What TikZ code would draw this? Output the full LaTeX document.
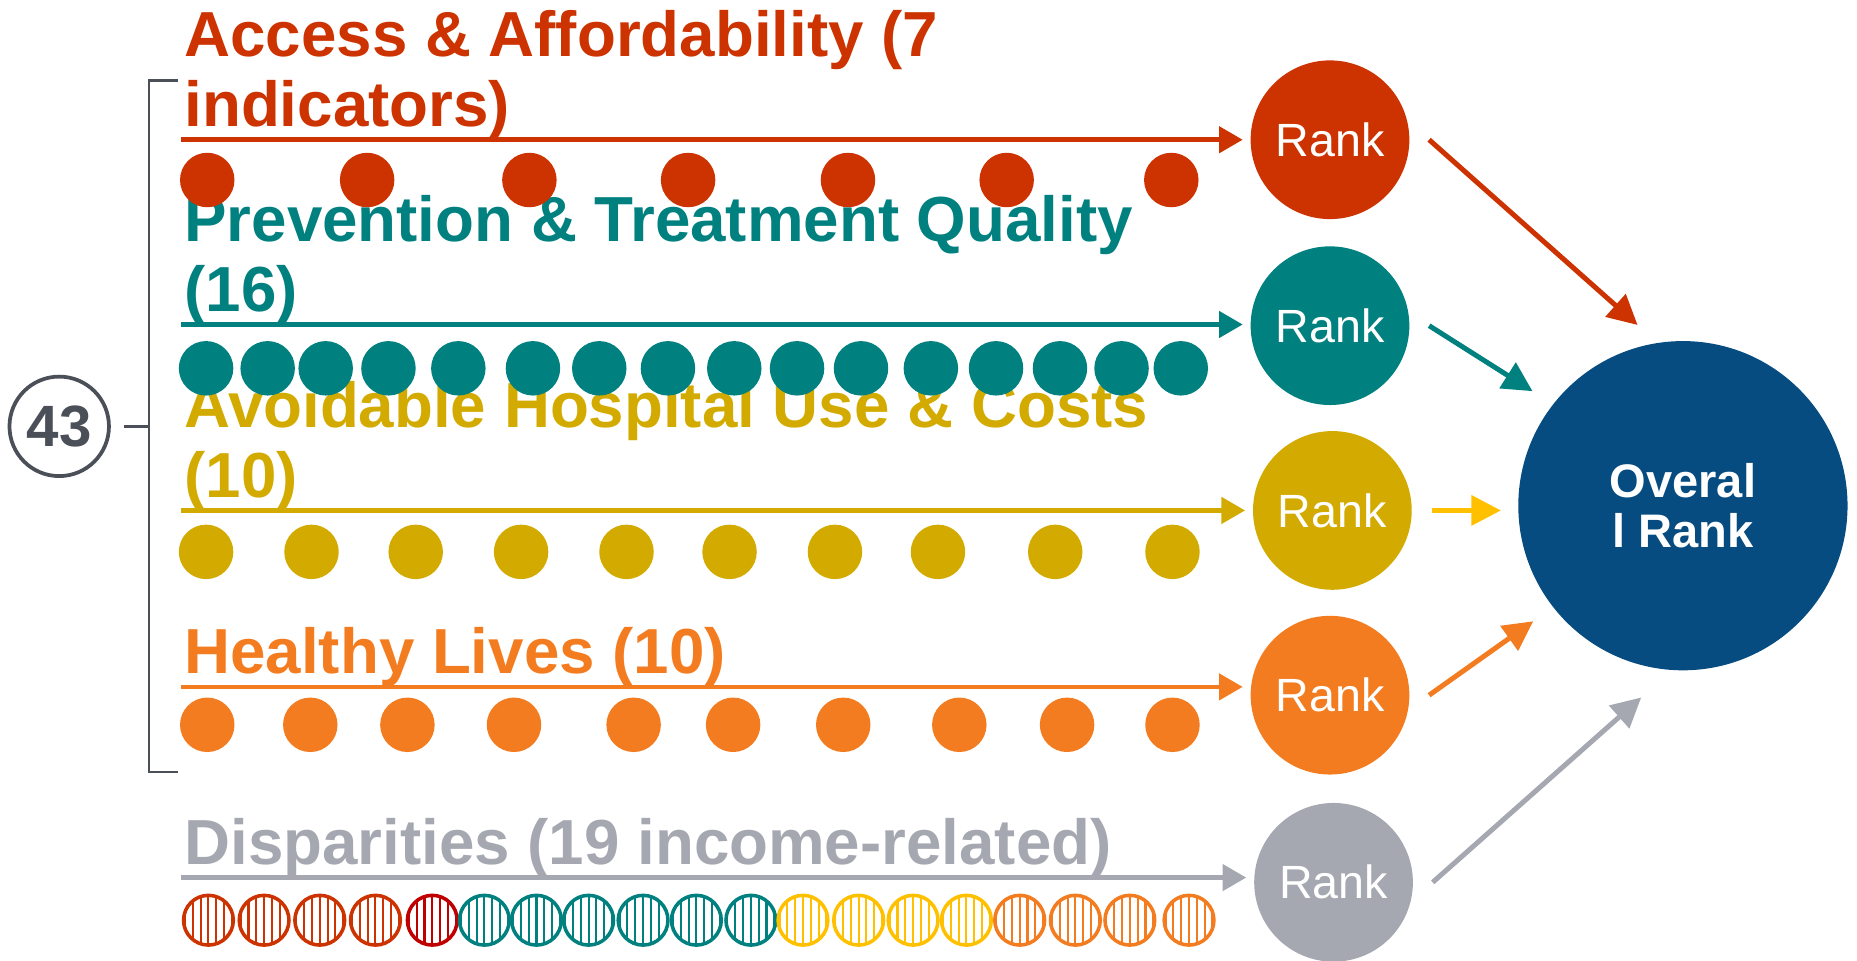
\documentclass[tikz,border=0pt]{standalone}
\usepackage{fontspec}
\setmainfont{Liberation Sans}
\usepackage{xcolor}
\usetikzlibrary{arrows.meta}
\definecolor{accred}{HTML}{CC3300}
\definecolor{darkred}{HTML}{C00000}
\definecolor{prevteal}{HTML}{00807F}
\definecolor{avoidgold}{HTML}{D3AB00}
\definecolor{brightgold}{HTML}{FFC000}
\definecolor{healthorange}{HTML}{F47C20}
\definecolor{dispgray}{HTML}{A5A8B0}
\definecolor{overallblue}{HTML}{064C80}
\definecolor{bracketgray}{HTML}{4B4F58}

\begin{document}
\begin{tikzpicture}[
	head/.style={anchor=base west,inner sep=0,align=left,font=\fontsize{15.3}{16.8}\selectfont\bfseries},
	rank/.style={circle,inner sep=0,minimum size=1.34cm,text=white,font=\fontsize{11.2}{13}\selectfont},
	feed/.style={line width=1.1pt,-{Triangle[length=0.2cm,width=0.22cm]},shorten >=0.06cm},
	toall/.style={line width=1.2pt,-{Triangle[length=0.25cm,width=0.25cm]}}]
	\useasboundingbox (0,0) rectangle (15.68,8.11);

	\node[head,accred] (hAccess) at (1.55,7.04) {Access \& Affordability (7\\indicators)};
	\node[head,prevteal] (hPrev) at (1.55,5.48) {Prevention \& Treatment Quality\\(16)};
	\node[head,avoidgold] (hAvoid) at (1.55,3.91) {Avoidable Hospital Use \& Costs\\(10)};
	\node[head,healthorange] (hHealth) at (1.55,2.42) {Healthy Lives (10)};
	\node[head,dispgray] (hDisp) at (1.55,0.81) {Disparities (19 income-related)};

	\node[rank,fill=accred] (rankA) at (11.23,6.93) {Rank};
	\node[rank,fill=prevteal] (rankB) at (11.23,5.36) {Rank};
	\node[rank,fill=avoidgold] (rankC) at (11.25,3.80) {Rank};
	\node[rank,fill=healthorange] (rankD) at (11.23,2.24) {Rank};
	\node[rank,fill=dispgray] (rankE) at (11.26,0.66) {Rank};
	\node[circle,fill=overallblue,minimum size=2.78cm,inner sep=0,text=white,align=center,
		font=\fontsize{11.3}{12}\selectfont\bfseries] (overall) at (14.21,3.84) {Overal\\l Rank};

	\coordinate (aStart) at (1.53,6.93);
	\coordinate (bStart) at (1.53,5.37);
	\coordinate (cStart) at (1.53,3.80);
	\coordinate (dStart) at (1.53,2.31);
	\coordinate (eStart) at (1.53,0.70);
	\draw[feed,accred] (aStart) -- (aStart -| rankA.west);
	\draw[feed,prevteal] (bStart) -- (bStart -| rankB.west);
	\draw[feed,avoidgold] (cStart) -- (cStart -| rankC.west);
	\draw[feed,healthorange] (dStart) -- (dStart -| rankD.west);
	\draw[feed,dispgray] (eStart) -- (eStart -| rankE.west);

	\draw[toall,accred,shorten >=0.22cm] ([xshift=0.16cm]rankA.east) -- (overall.99);
	\draw[toall,prevteal,shorten >=0.2cm] ([xshift=0.16cm]rankB.east) -- (overall.142);
	\draw[toall,brightgold,shorten >=0.14cm] ([xshift=0.16cm]rankC.east) -- (rankC -| overall.west);
	\draw[toall,healthorange,shorten >=0.2cm] ([xshift=0.16cm]rankD.east) -- (overall.218);
	\draw[toall,dispgray,shorten >=0.34cm] ([xshift=0.16cm]rankE.east) -- (overall.266);

	\foreach \x in {1.75,3.10,4.47,5.81,7.16,8.50,9.89}
		\fill[accred] (\x,6.59) circle (0.23);
	\foreach \x in {1.74,2.26,2.75,3.28,3.87,4.50,5.06,5.64,6.20,6.73,7.27,7.86,8.41,8.95,9.47,9.97}
		\fill[prevteal] (\x,5.00) circle (0.23);
	\foreach \x in {1.74,2.63,3.51,4.40,5.29,6.16,7.05,7.92,8.91,9.90}
		\fill[avoidgold] (\x,3.45) circle (0.23);
	\foreach \x in {1.75,2.62,3.44,4.34,5.35,6.19,7.12,8.10,9.01,9.90}
		\fill[healthorange] (\x,1.99) circle (0.23);

	\foreach \x/\c in {1.76/accred,2.23/accred,2.70/accred,3.17/accred,3.65/darkred,
		4.09/prevteal,4.53/prevteal,4.97/prevteal,5.43/prevteal,5.88/prevteal,6.34/prevteal,
		6.78/brightgold,7.25/brightgold,7.71/brightgold,8.16/brightgold,
		8.61/healthorange,9.08/healthorange,9.54/healthorange,10.04/healthorange}{
		\begin{scope}
			\clip (\x,0.34) circle (0.21);
			\foreach \d in {-0.198,-0.132,-0.066,0,0.066,0.132,0.198}
				\draw[\c,line width=0.5pt] (\x+\d,0.05) -- (\x+\d,0.65);
		\end{scope}
		\draw[\c,line width=0.85pt] (\x,0.34) circle (0.21);
	}

	\node[circle,draw=bracketgray,line width=0.9pt,minimum size=0.84cm,inner sep=0,text=bracketgray,
		font=\fontsize{14}{14}\selectfont\bfseries] (total) at (0.50,4.51) {43};
	\coordinate (brTop) at (1.50,7.43);
	\coordinate (brMid) at (1.26,4.51);
	\coordinate (brBot) at (1.50,1.59);
	\draw[bracketgray,line width=0.6pt] (brTop) -- (brTop -| brMid) -- (brBot -| brMid) -- (brBot);
	\draw[bracketgray,line width=0.6pt,shorten <=0.11cm] (total.east) -- (brMid);
\end{tikzpicture}
\end{document}
